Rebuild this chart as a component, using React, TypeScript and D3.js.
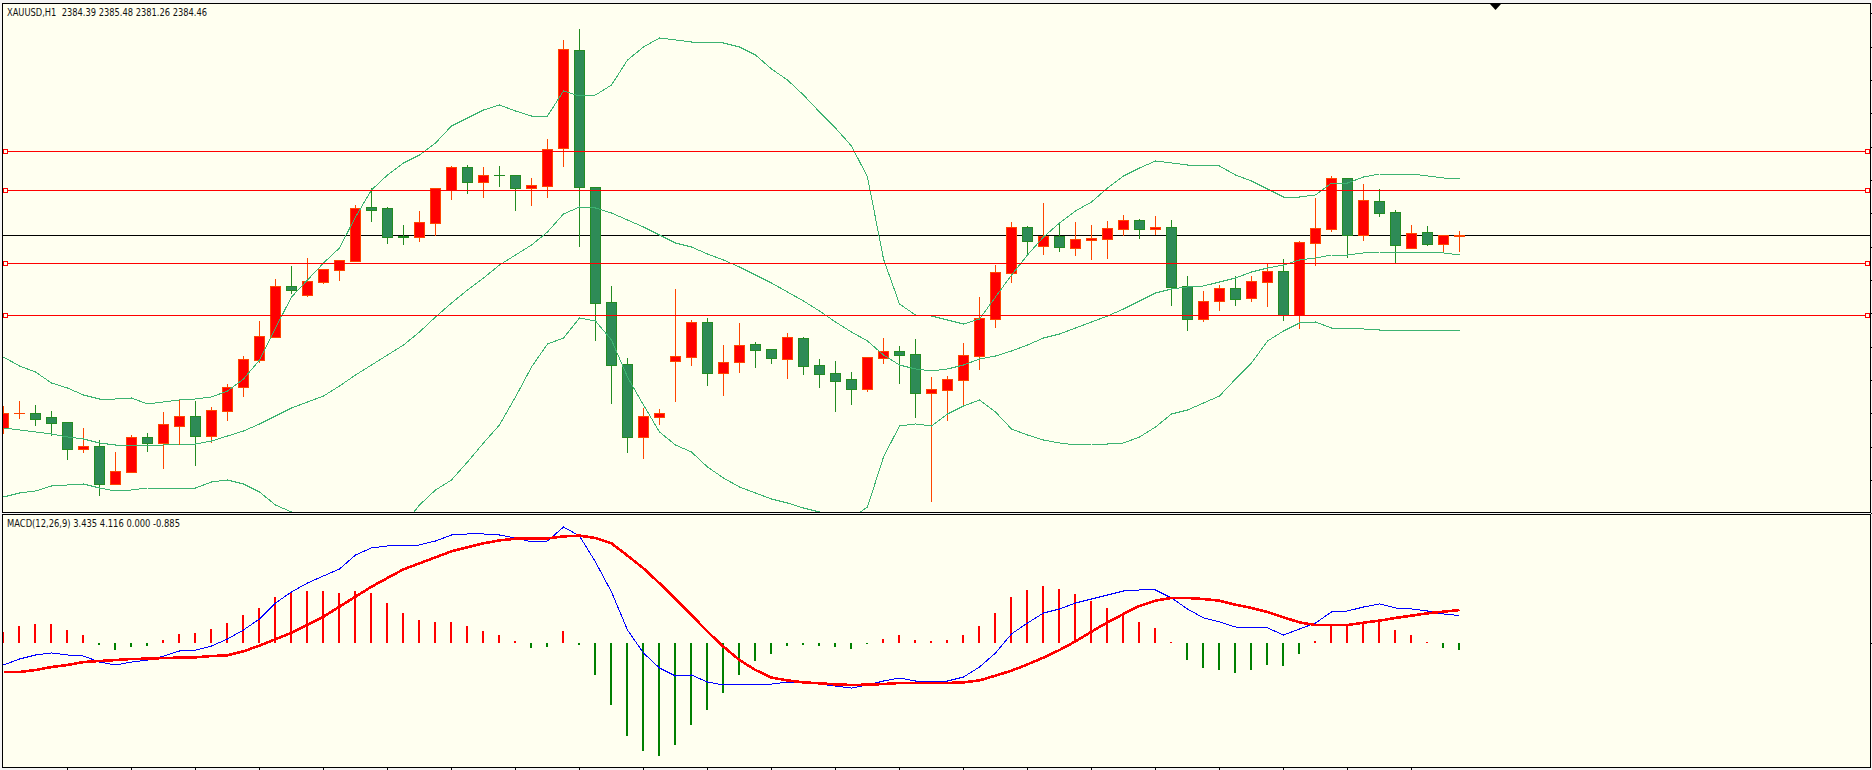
import React from "react";
import * as d3 from "d3";

// Prices (bar 0 .. bar 91). The last bar is the header's O/H/L/C.
const OPEN = [2345.9,2348.9,2348.9,2348.1,2347.1,2341.7,2342.3,2334.7,2337.1,2344.1,2342.9,2346.3,2348.3,2344.3,2349.3,2354.1,2359.5,2364.1,2374.3,2372.5,2375.1,2377.5,2379.3,2390.1,2389.9,2384.3,2384.1,2386.9,2393.5,2398.1,2395.1,2396.5,2396.5,2393.9,2394.3,2401.9,2421.5,2394.1,2371.1,2358.7,2344.1,2348.1,2359.3,2360.1,2367.1,2356.9,2359.1,2362.7,2361.7,2359.7,2363.9,2358.5,2356.9,2355.7,2353.7,2359.9,2361.3,2360.7,2352.9,2353.5,2355.5,2360.3,2367.7,2376.9,2386.1,2382.3,2384.3,2381.9,2383.5,2383.7,2385.7,2387.5,2385.7,2386.1,2374.3,2367.7,2371.3,2373.9,2371.9,2375.1,2377.3,2368.5,2382.9,2385.7,2395.9,2384.5,2391.3,2389.1,2381.9,2385.1,2382.7,2384.39];
const HIGH = [2350.5,2351.5,2350.7,2349.5,2347.3,2346.1,2343.7,2341.3,2344.7,2345.1,2349.3,2351.9,2351.5,2350.3,2354.9,2360.5,2367.5,2375.9,2378.5,2380.1,2377.9,2379.7,2390.7,2394.1,2390.3,2386.7,2389.5,2394.1,2398.5,2398.7,2398.3,2398.5,2396.5,2396.1,2403.9,2423.7,2425.9,2394.1,2374.5,2360.1,2350.1,2349.9,2373.9,2367.7,2368.1,2362.7,2367.1,2363.3,2361.9,2365.1,2364.3,2359.9,2359.5,2357.3,2360.3,2364.1,2362.5,2363.9,2356.3,2356.5,2363.1,2372.3,2378.7,2387.3,2386.5,2391.1,2386.9,2387.3,2386.7,2387.5,2388.7,2387.9,2388.5,2387.7,2376.5,2373.5,2374.7,2376.5,2376.5,2379.1,2379.9,2383.5,2392.1,2396.5,2396.1,2394.9,2393.9,2389.7,2386.7,2386.5,2384.7,2385.48];
const LOW = [2344.9,2347.9,2346.5,2344.5,2339.7,2341.1,2332.5,2334.7,2337.1,2341.3,2337.9,2342.7,2338.5,2343.1,2347.5,2352.3,2359.1,2364.1,2372.9,2372.3,2374.9,2375.5,2379.3,2387.3,2382.9,2382.7,2383.3,2384.5,2391.7,2392.9,2392.1,2394.3,2389.5,2390.5,2392.1,2398.3,2382.3,2363.5,2350.9,2341.1,2339.9,2346.7,2351.3,2358.5,2354.5,2352.5,2357.1,2358.1,2358.9,2355.9,2356.7,2354.1,2349.3,2350.7,2353.3,2358.9,2354.9,2348.1,2331.3,2347.5,2350.7,2357.7,2366.1,2375.1,2380.5,2380.7,2381.3,2380.5,2379.7,2379.9,2384.5,2383.9,2384.7,2370.5,2365.5,2367.3,2369.5,2370.5,2371.3,2370.3,2367.5,2365.9,2378.5,2385.3,2380.1,2383.5,2388.3,2378.9,2381.9,2382.5,2381.1,2381.26];
const CLOSE = [2348.9,2348.9,2347.7,2346.9,2341.7,2342.3,2334.7,2337.3,2344.1,2342.9,2346.7,2348.3,2344.3,2349.5,2354.1,2359.7,2364.3,2374.3,2373.5,2375.3,2377.7,2379.5,2389.9,2389.5,2384.1,2384.1,2387.1,2393.9,2398.1,2395.1,2396.5,2396.4,2393.9,2394.5,2401.7,2421.7,2394.1,2370.9,2358.5,2344.1,2348.3,2348.9,2360.3,2367.1,2356.9,2359.1,2362.5,2361.5,2359.9,2364.1,2358.3,2356.7,2355.3,2353.7,2360.1,2361.3,2360.5,2352.9,2353.7,2355.7,2360.5,2367.9,2377.1,2386.1,2383.3,2384.3,2382.1,2383.7,2383.9,2385.9,2387.5,2385.7,2386.1,2374.1,2367.7,2371.3,2373.9,2371.7,2375.3,2377.3,2368.5,2383.1,2385.9,2395.9,2384.5,2391.5,2388.9,2382.5,2384.9,2382.7,2384.5,2384.46];

const BB_UPPER = [2360.1,2358.3,2357.1,2354.9,2353.9,2352.5,2351.7,2351.7,2351.9,2350.7,2351.1,2351.5,2351.7,2352.1,2353.3,2355.7,2359.5,2365.9,2372.1,2375.5,2378.9,2381.9,2388.1,2393.5,2396.5,2398.9,2400.5,2402.9,2406.3,2407.9,2409.5,2410.5,2409.3,2408.3,2408.3,2413.3,2412.3,2412.5,2414.5,2419.5,2422.1,2423.9,2423.5,2423.1,2423.1,2422.9,2422.1,2420.5,2417.7,2415.5,2412.5,2409.1,2405.9,2402.3,2396.1,2379.7,2370.7,2368.5,2368.3,2367.5,2366.7,2367.7,2372.1,2376.5,2380.5,2384.1,2386.9,2389.3,2391.1,2393.9,2396.3,2397.9,2399.3,2398.9,2398.5,2398.5,2398.3,2396.5,2395.3,2393.7,2392.1,2392.1,2392.5,2394.9,2394.9,2396.1,2396.7,2396.7,2396.7,2396.3,2395.9,2395.7];
const BB_MIDDLE = [2345.9,2345.5,2345.1,2344.7,2344.1,2343.7,2342.9,2342.5,2342.5,2342.3,2342.5,2342.7,2342.7,2343.3,2344.3,2345.3,2346.7,2348.3,2349.9,2351.1,2352.3,2354.3,2356.5,2358.5,2360.5,2362.5,2365.1,2368.1,2370.9,2373.5,2375.9,2378.5,2380.5,2382.5,2385.1,2388.7,2390.1,2389.9,2388.9,2387.5,2386.1,2384.5,2382.9,2382.1,2380.7,2379.5,2378.1,2376.5,2374.9,2373.1,2371.3,2369.3,2367.1,2365.1,2363.3,2360.5,2358.5,2357.7,2357.3,2357.7,2358.5,2359.7,2360.3,2361.3,2362.5,2363.9,2364.7,2365.9,2367.1,2368.3,2369.7,2371.3,2372.9,2373.7,2374.1,2374.3,2375.1,2375.9,2377.1,2377.9,2378.5,2379.5,2379.9,2380.5,2380.5,2380.9,2381.1,2381.1,2381.1,2381.1,2380.9,2380.5];
const BB_LOWER = [2332.1,2332.9,2333.3,2334.3,2334.5,2334.7,2333.9,2333.3,2333.5,2333.9,2333.9,2333.9,2333.9,2335.1,2335.5,2334.7,2333.1,2330.5,2329.1,2327.5,2325.5,2323.9,2323.1,2323.5,2325.1,2326.5,2330.5,2333.5,2335.5,2339.1,2342.9,2346.5,2352.1,2358.1,2362.7,2363.9,2367.9,2367.3,2363.5,2356.1,2350.5,2345.1,2342.5,2341.1,2338.1,2335.9,2334.1,2332.9,2331.7,2330.9,2329.9,2329.1,2328.3,2327.9,2330.1,2340.1,2346.3,2346.7,2346.3,2348.7,2350.3,2351.5,2349.1,2345.7,2344.5,2343.5,2342.9,2342.5,2342.7,2342.7,2342.9,2344.1,2346.1,2348.7,2349.5,2350.9,2352.3,2355.7,2358.9,2363.3,2365.3,2366.9,2367.1,2365.9,2365.9,2365.7,2365.5,2365.5,2365.5,2365.5,2365.5,2365.5];

const MACD_LINE = [-2.75,-2,-1.5,-1.25,-1.5,-1.63,-2.38,-2.75,-2.38,-2.13,-1.63,-1,-0.88,-0.38,0.5,1.63,3,5,6.38,7.5,8.38,9.25,11,11.88,12.13,12.13,12.25,12.75,13.5,13.63,13.63,13.5,13.13,12.63,12.75,14.5,13.38,10.13,6.38,1.63,-1.25,-3.13,-4.13,-4,-4.88,-5.25,-5.13,-5.13,-5.13,-4.88,-5,-5.13,-5.38,-5.63,-5.25,-4.75,-4.38,-4.75,-4.75,-4.75,-4.25,-3,-1.25,1.13,2.5,3.75,4.25,5,5.5,6,6.5,6.63,6.63,5.63,4.25,3.13,2.63,2,1.88,1.88,1,1.75,2.5,3.88,4,4.5,4.88,4.38,4.25,4,3.63,3.435];
const MACD_SIGNAL = [-3.63,-3.63,-3.38,-3,-2.75,-2.38,-2.25,-2.13,-2,-1.96,-1.88,-1.83,-1.79,-1.63,-1.54,-1.04,-0.33,0.46,1.29,2.29,3.29,4.54,5.79,7.04,8.13,9.21,9.96,10.71,11.46,11.96,12.46,12.83,13.04,13.04,13.08,13.33,13.42,13.13,12.46,10.92,9.33,7.46,5.46,3.5,1.42,-0.46,-2.13,-3.38,-4.33,-4.67,-4.92,-5.04,-5.17,-5.25,-5.21,-5.13,-5,-5,-5,-5,-4.92,-4.67,-4.08,-3.46,-2.67,-1.83,-0.88,0.21,1.42,2.58,3.63,4.63,5.29,5.63,5.63,5.5,5.29,4.79,4.38,3.88,3.21,2.58,2.25,2.25,2.25,2.54,2.79,3.13,3.42,3.71,3.92,4.116];
const MACD_HIST = [1.38,2.13,2.38,2.38,1.63,1,-0.25,-0.88,-0.5,-0.38,0.38,1.13,1.25,1.75,2.5,3.5,4.38,5.75,6.38,6.5,6.5,6.25,6.5,6.25,5,3.75,2.88,2.63,2.63,2.13,1.5,1,0.25,-0.63,-0.5,1.5,-0.25,-4,-7.75,-11.63,-13.5,-14.13,-12.75,-10.25,-8.38,-6.25,-4,-2.25,-1.38,-0.38,-0.25,-0.38,-0.5,-0.75,-0.13,0.5,1,0.38,0.25,0.38,1,2.13,3.75,5.75,6.63,7.13,6.75,6.13,5.25,4.38,3.75,2.63,1.88,0.13,-2.13,-3.13,-3.38,-3.75,-3.38,-2.75,-2.88,-1.38,0.25,2.25,2.25,2.63,2.75,1.63,1,0.13,-0.63,-0.885];

const RED_LEVELS = [2401.3, 2393.5, 2378.9, 2368.5];
const BID_LEVEL = 2384.46;
const PRICE_TITLE = "XAUUSD,H1  2384.39 2385.48 2381.26 2384.46";
const MACD_TITLE = "MACD(12,26,9) 3.435 4.116 0.000 -0.885";

const W = 1872;
const H = 770;
const IVORY = "#FFFFF0";
const MAIN = { l: 3, t: 4, r: 1870, b: 512 };
const SUB = { l: 3, t: 515, r: 1870, b: 767 };

const bars = d3.range(OPEN.length);
const x = d3.scaleLinear().domain([0, 1]).range([3.5, 19.5]);
const yP = d3.scaleLinear().domain([2431.5, 2331.5]).range([0, 500]);
const yM = d3.scaleLinear().domain([0, 1]).range([643, 635]);
const row = (v: number) => Math.round(yP(v)) + 0.5;

const pricePath = (vals: number[]) =>
  d3.line<number>().x((_, i) => x(i)).y((v) => yP(v))(vals) || "";
const macdPath = (vals: number[]) =>
  d3.line<number>().x((_, i) => x(i)).y((v) => yM(v))(vals) || "";

const xTickBars = bars.filter((i) => i % 4 === 0 && i > 0 && i < 90);
const yTicks = d3.range(0, 16).map((k) => 13.3 + 33.33 * k);

export default function App() {
  return (
    <svg
      width={W}
      height={H}
      viewBox={`0 0 ${W} ${H}`}
      style={{ position: "absolute", left: 0, top: 0, display: "block", background: "#F4F4F4" }}
    >
      <defs>
        <clipPath id="mainClip">
          <rect x={MAIN.l} y={MAIN.t} width={MAIN.r - MAIN.l} height={MAIN.b - MAIN.t} />
        </clipPath>
        <clipPath id="subClip">
          <rect x={SUB.l} y={SUB.t} width={SUB.r - SUB.l} height={SUB.b - SUB.t} />
        </clipPath>
      </defs>

      <rect x={MAIN.l} y={MAIN.t} width={MAIN.r - MAIN.l} height={MAIN.b - MAIN.t} fill={IVORY} />
      <rect x={SUB.l} y={SUB.t} width={SUB.r - SUB.l} height={SUB.b - SUB.t} fill={IVORY} />

      <g shapeRendering="crispEdges" clipPath="url(#mainClip)">
        <line x1={MAIN.l} x2={MAIN.r} y1={row(BID_LEVEL)} y2={row(BID_LEVEL)} stroke="#000" />
        {bars.map((i) => {
          const up = CLOSE[i] >= OPEN[i];
          const cx = x(i);
          const edge = up ? "#FF4500" : "#228B22";
          const top = row(Math.max(OPEN[i], CLOSE[i]));
          const bot = row(Math.min(OPEN[i], CLOSE[i]));
          return (
            <g key={i}>
              <line x1={cx} x2={cx} y1={row(HIGH[i])} y2={row(LOW[i])} stroke={edge} />
              {bot - top < 1 ? (
                <line x1={cx - 5.5} x2={cx + 5.5} y1={top} y2={top} stroke={edge} />
              ) : (
                <rect
                  x={cx - 5}
                  y={top}
                  width={10}
                  height={bot - top}
                  fill={up ? "#FF0000" : "#2E8B57"}
                  stroke={edge}
                />
              )}
            </g>
          );
        })}
        {[BB_UPPER, BB_MIDDLE, BB_LOWER].map((band, k) => (
          <path key={k} d={pricePath(band)} fill="none" stroke="#3CB371" strokeWidth={1} />
        ))}
        {RED_LEVELS.map((lvl) => (
          <line key={lvl} x1={MAIN.l} x2={MAIN.r} y1={row(lvl)} y2={row(lvl)} stroke="#FF0000" />
        ))}
      </g>

      <g shapeRendering="crispEdges">
        {RED_LEVELS.map((lvl) => (
          <g key={lvl}>
            <rect x={3.5} y={row(lvl) - 2} width={4} height={4} fill={IVORY} stroke="#FF0000" />
            <rect x={1865.5} y={row(lvl) - 2} width={4} height={4} fill={IVORY} stroke="#FF0000" />
          </g>
        ))}
      </g>

      <g shapeRendering="crispEdges" clipPath="url(#subClip)">
        {bars.map((i) => {
          const v = MACD_HIST[i];
          const y0 = yM(0);
          const y1 = yM(v);
          return (
            <rect
              key={i}
              x={x(i) - 1.5}
              y={Math.min(y0, y1)}
              width={2}
              height={Math.abs(y1 - y0)}
              fill={v >= 0 ? "#FF0000" : "#008000"}
            />
          );
        })}
        <path d={macdPath(MACD_LINE)} fill="none" stroke="#0000FF" strokeWidth={1} />
        <path d={macdPath(MACD_SIGNAL)} fill="none" stroke="#FF0000" strokeWidth={2.6} />
      </g>

      {/* frames */}
      <g shapeRendering="crispEdges" stroke="#000" fill="none">
        <rect x={2.5} y={3.5} width={1868} height={509} />
        <rect x={2.5} y={514.5} width={1868} height={253} />
        {yTicks.map((t) => (
          <line key={t} x1={1871} x2={1872} y1={Math.round(t) + 0.5} y2={Math.round(t) + 0.5} />
        ))}
        <line x1={1871} x2={1872} y1={643.5} y2={643.5} />
        {xTickBars.map((i) => (
          <line key={i} x1={x(i)} x2={x(i)} y1={768} y2={770} />
        ))}
      </g>

      <path
        d={d3.line()([[1490, 4], [1501, 4], [1495.5, 10]]) + "Z"}
        fill="#000"
      />

      <text x={7} y={16} fontFamily="'DejaVu Sans', sans-serif" fontSize={11} textLength={200} lengthAdjust="spacingAndGlyphs" fill="#111" style={{ whiteSpace: "pre" }}>
        {PRICE_TITLE}
      </text>
      <text x={7} y={527} fontFamily="'DejaVu Sans', sans-serif" fontSize={11} textLength={173} lengthAdjust="spacingAndGlyphs" fill="#111">
        {MACD_TITLE}
      </text>
    </svg>
  );
}
